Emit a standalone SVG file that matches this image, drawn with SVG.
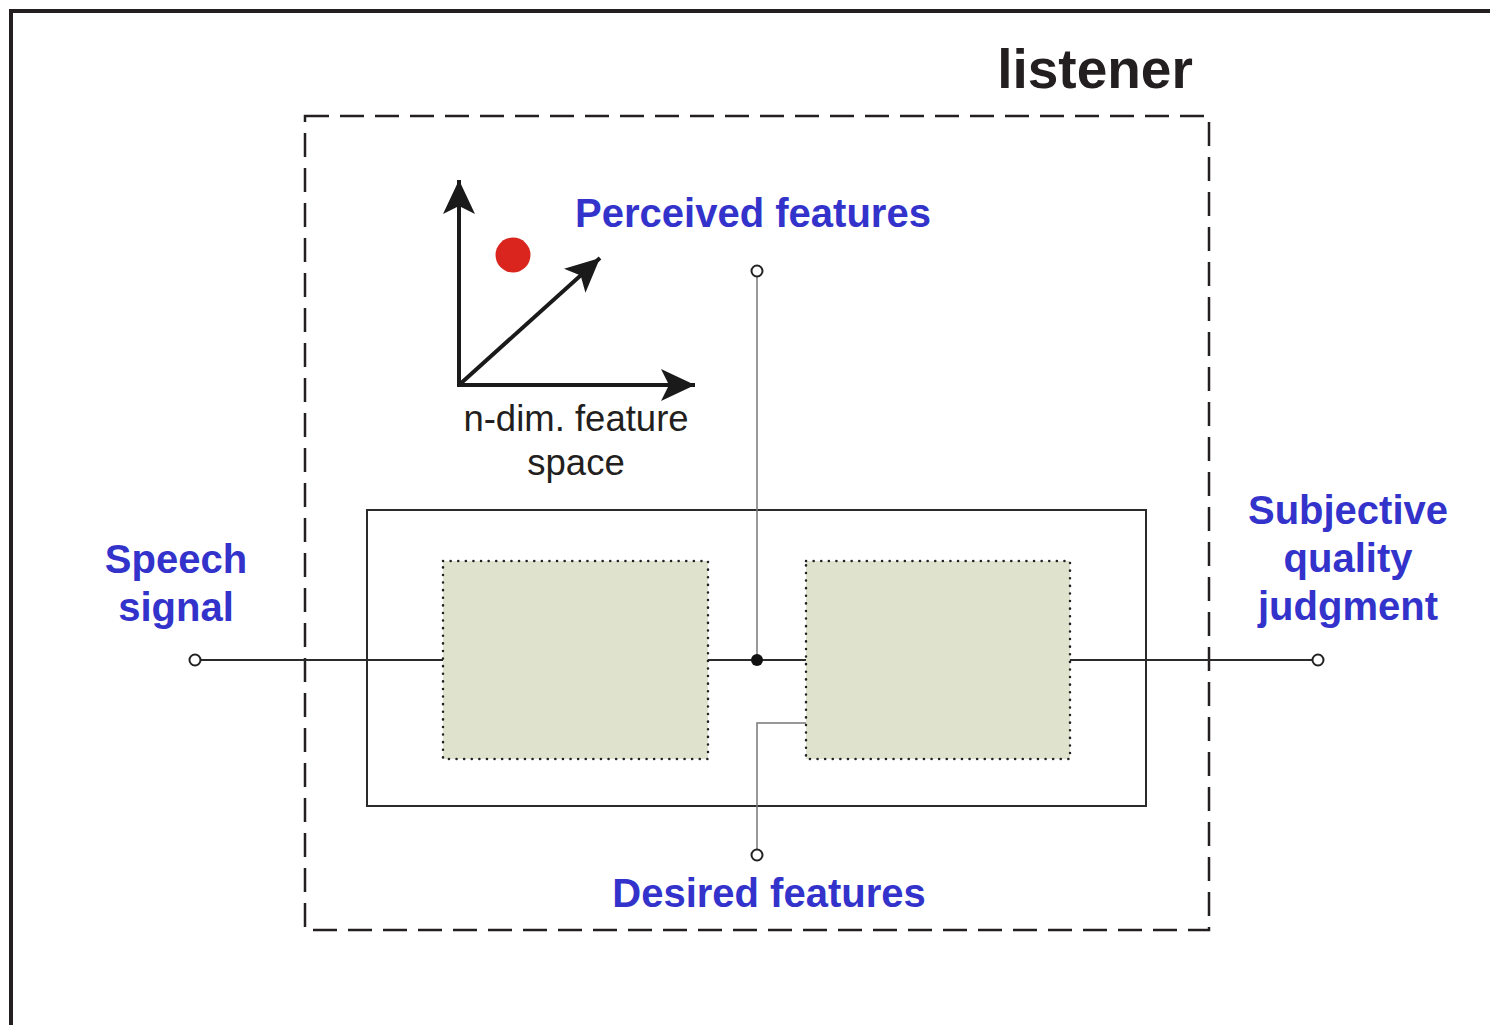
<svg xmlns="http://www.w3.org/2000/svg" width="1490" height="1025" viewBox="0 0 1490 1025">
<defs>
<style>
.blue{font-family:"Liberation Sans",Arial,sans-serif;font-weight:bold;font-size:40px;fill:#3333cc;text-anchor:middle}
.blk{font-family:"Liberation Sans",Arial,sans-serif;font-size:36.5px;fill:#231f20;text-anchor:middle}
.wire{stroke:#2b2b2b;stroke-width:2;fill:none}
.thin{stroke:#777;stroke-width:1.5;fill:none}
.term{fill:#fff;stroke:#222;stroke-width:2}
.box{fill:#dfe2cc;stroke:#222;stroke-width:2.5;stroke-dasharray:0.1 7.5;stroke-linecap:round}
</style>
<marker id="big" viewBox="0 0 34 32" refX="34" refY="16" markerWidth="34" markerHeight="32" markerUnits="userSpaceOnUse" orient="auto">
<path d="M0,0 L34,16 L0,32 L8,16 Z" fill="#1a1a1a"/>
</marker>
</defs>
<rect width="1490" height="1025" fill="#fff"/>
<g id="frame">
<path d="M11,1025 L11,11 L1490,11" fill="none" stroke="#231f20" stroke-width="4"/>
</g>
<g id="listener">
<rect x="305" y="116" width="904" height="814" fill="none" stroke="#231f20" stroke-width="2.5" stroke-dasharray="24 11"/>
<text x="1095" y="88" font-family="Liberation Sans,Arial,sans-serif" font-weight="bold" font-size="55" fill="#231f20" text-anchor="middle">listener</text>
</g>
<g id="system">
<rect x="367" y="510" width="779" height="296" fill="none" stroke="#2b2b2b" stroke-width="2"/>
</g>
<g id="connectors">
<line class="wire" x1="200" y1="660" x2="443" y2="660"/>
<line class="wire" x1="708" y1="660" x2="806" y2="660"/>
<line class="wire" x1="1070" y1="660" x2="1313" y2="660"/>
<line class="thin" x1="757" y1="276" x2="757" y2="660"/>
<polyline class="thin" points="806,723 757,723 757,850"/>
<circle cx="757" cy="660" r="6" fill="#111"/>
</g>
<g id="box1"><rect class="box" x="443" y="561" width="265" height="198"/></g>
<g id="box2"><rect class="box" x="806" y="561" width="264" height="198"/></g>
<g id="terminals">
<circle class="term" cx="195" cy="660" r="5.5"/>
<circle class="term" cx="1318" cy="660" r="5.5"/>
<circle class="term" cx="757" cy="271" r="5.5" stroke="#555" stroke-width="1.5"/>
<circle class="term" cx="757" cy="855" r="5.5" stroke="#555" stroke-width="1.5"/>
</g>
<g id="feature-space">
<path d="M459,386 L459,180" stroke="#1a1a1a" stroke-width="4" fill="none" marker-end="url(#big)"/>
<path d="M457,385 L695,385" stroke="#1a1a1a" stroke-width="4" fill="none" marker-end="url(#big)"/>
<path d="M459,385 L600,258" stroke="#1a1a1a" stroke-width="4" fill="none" marker-end="url(#big)"/>
<circle cx="513" cy="255" r="17.5" fill="#d9251d"/>
<text class="blk" x="576" y="431">n-dim. feature</text>
<text class="blk" x="576" y="475">space</text>
</g>
<g id="labels">
<text class="blue" x="753" y="227">Perceived features</text>
<text class="blue" x="769" y="907">Desired features</text>
<text class="blue" x="176" y="573">Speech</text>
<text class="blue" x="176" y="621">signal</text>
<text class="blue" x="1348" y="524">Subjective</text>
<text class="blue" x="1348" y="572">quality</text>
<text class="blue" x="1348" y="620">judgment</text>
</g>
</svg>
